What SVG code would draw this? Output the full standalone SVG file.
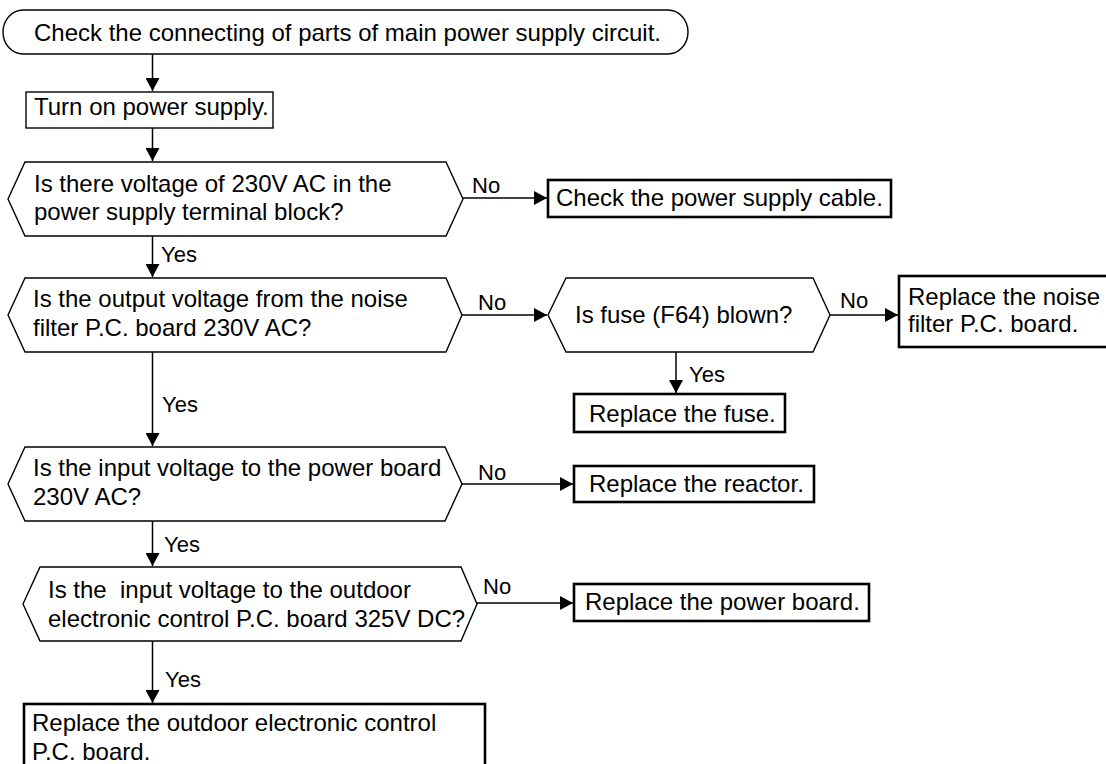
<svg xmlns="http://www.w3.org/2000/svg" width="1106" height="764" viewBox="0 0 1106 764">
<style>
.t{font-family:"Liberation Sans",Arial,sans-serif;font-size:24px;fill:#000;white-space:pre}
.l{font-family:"Liberation Sans",Arial,sans-serif;font-size:22px;fill:#000}
.thin{fill:#fff;stroke:#000;stroke-width:1.4}
.thick{fill:#fff;stroke:#000;stroke-width:2.6}
.c{fill:none;stroke:#000;stroke-width:1.5}
</style>
<defs>
<marker id="ah" viewBox="0 0 13 14" refX="13" refY="7" markerWidth="13" markerHeight="14" orient="auto" markerUnits="userSpaceOnUse">
<path d="M0,0 L13,7 L0,14 z" fill="#000"/>
</marker>
</defs>
<rect width="1106" height="764" fill="#fff"/>
<g id="connectors">
<line class="c" x1="152.5" y1="54" x2="152.5" y2="91" marker-end="url(#ah)"/>
<line class="c" x1="152.5" y1="128" x2="152.5" y2="161" marker-end="url(#ah)"/>
<line class="c" x1="463" y1="198" x2="547" y2="198" marker-end="url(#ah)"/>
<text class="l" x="472" y="193">No</text>
<line class="c" x1="152.5" y1="236" x2="152.5" y2="277" marker-end="url(#ah)"/>
<text class="l" x="161" y="262">Yes</text>
<line class="c" x1="462" y1="315" x2="547" y2="315" marker-end="url(#ah)"/>
<text class="l" x="478" y="310">No</text>
<line class="c" x1="830" y1="315" x2="898" y2="315" marker-end="url(#ah)"/>
<text class="l" x="840" y="308">No</text>
<line class="c" x1="676" y1="352" x2="676" y2="393" marker-end="url(#ah)"/>
<text class="l" x="689" y="382">Yes</text>
<line class="c" x1="152.5" y1="352" x2="152.5" y2="446" marker-end="url(#ah)"/>
<text class="l" x="162" y="412">Yes</text>
<line class="c" x1="462" y1="484" x2="573" y2="484" marker-end="url(#ah)"/>
<text class="l" x="478" y="480">No</text>
<line class="c" x1="152.5" y1="521" x2="152.5" y2="566" marker-end="url(#ah)"/>
<text class="l" x="164" y="552">Yes</text>
<line class="c" x1="477" y1="603" x2="573" y2="603" marker-end="url(#ah)"/>
<text class="l" x="483" y="594">No</text>
<line class="c" x1="152.5" y1="641" x2="152.5" y2="703" marker-end="url(#ah)"/>
<text class="l" x="165" y="687">Yes</text>
</g>
<g id="start">
<rect class="thin" x="3" y="10" width="685" height="44" rx="20" ry="22"/>
<text class="t" x="34" y="41">Check the connecting of parts of main power supply circuit.</text>
</g>
<g id="turn-on">
<rect class="thin" x="26" y="92" width="247" height="36"/>
<text class="t" x="34" y="115">Turn on power supply.</text>
</g>
<g id="q1">
<polygon class="thin" points="8,199 25,162 446,162 463,199 446,236 25,236"/>
<text class="t" x="34" y="192">Is there voltage of 230V AC in the</text>
<text class="t" x="34" y="220">power supply terminal block?</text>
</g>
<g id="check-cable">
<rect class="thick" x="548" y="180" width="343" height="37"/>
<text class="t" x="556" y="206">Check the power supply cable.</text>
</g>
<g id="q2">
<polygon class="thin" points="8,315 25,278 446,278 462,315 446,352 25,352"/>
<text class="t" x="33" y="307">Is the output voltage from the noise</text>
<text class="t" x="33" y="336">filter P.C. board 230V AC?</text>
</g>
<g id="q-fuse">
<polygon class="thin" points="548,315 566,278 813,278 830,315 813,352 566,352"/>
<text class="t" x="575" y="323">Is fuse (F64) blown?</text>
</g>
<g id="replace-noise">
<rect class="thick" x="899" y="276" width="210" height="71"/>
<text class="t" x="908" y="305">Replace the noise</text>
<text class="t" x="908" y="332">filter P.C. board.</text>
</g>
<g id="replace-fuse">
<rect class="thick" x="574" y="394" width="211" height="38"/>
<text class="t" x="589" y="422">Replace the fuse.</text>
</g>
<g id="q3">
<polygon class="thin" points="8,484 25,447 445,447 462,484 445,521 25,521"/>
<text class="t" x="33" y="476">Is the input voltage to the power board</text>
<text class="t" x="33" y="505">230V AC?</text>
</g>
<g id="replace-reactor">
<rect class="thick" x="574" y="466" width="240" height="36"/>
<text class="t" x="589" y="492">Replace the reactor.</text>
</g>
<g id="q4">
<polygon class="thin" points="23,604 40,567 461,567 477,604 461,641 40,641"/>
<text class="t" x="48" y="598">Is the  input voltage to the outdoor</text>
<text class="t" x="48" y="627">electronic control P.C. board 325V DC?</text>
</g>
<g id="replace-power-board">
<rect class="thick" x="574" y="584" width="295" height="37"/>
<text class="t" x="585" y="610">Replace the power board.</text>
</g>
<g id="replace-outdoor">
<rect class="thick" x="24" y="704" width="461" height="80"/>
<text class="t" x="32" y="731">Replace the outdoor electronic control</text>
<text class="t" x="32" y="760">P.C. board.</text>
</g>
</svg>
